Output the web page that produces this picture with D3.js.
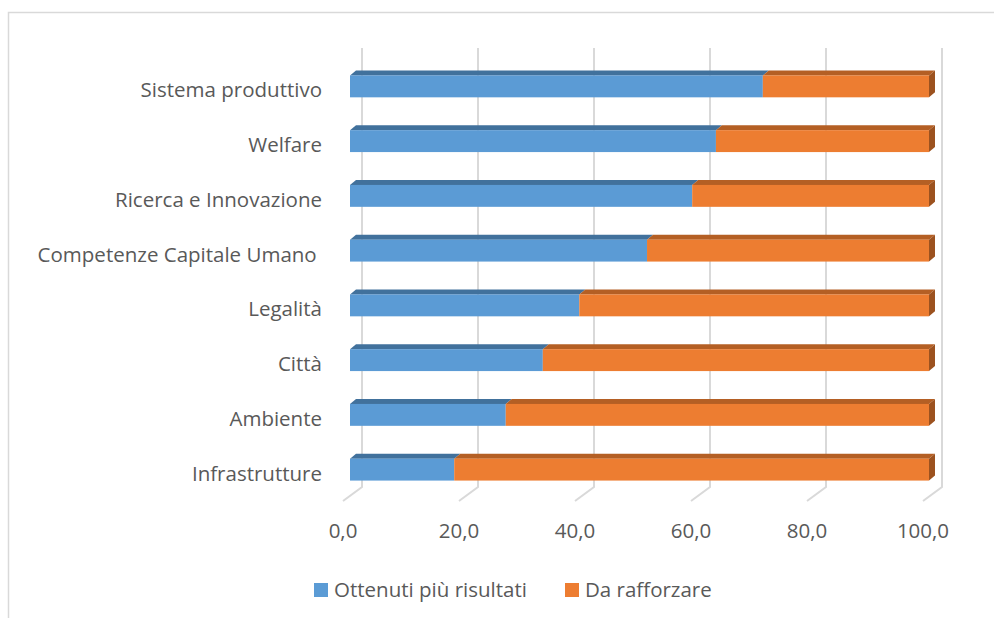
<!DOCTYPE html>
<html lang="it">
<head>
  <meta charset="UTF-8">
  <script src="https://d3js.org/d3.v7.min.js"></script>
  <style>
    body { margin: 0; background: #fff; }
    text { font-family: "Open Sans", sans-serif; fill: #595959; }
  </style>
</head>
<body>
  <script>
    const categories = ["Sistema produttivo", "Welfare", "Ricerca e Innovazione", "Competenze Capitale Umano ",
                        "Legalità", "Città", "Ambiente", "Infrastrutture"]
    const ottenuti = [71.3, 63.2, 59.1, 51.3, 39.6, 33.3, 26.9, 18.0]
    const rafforzare = ottenuti.map(v => +(100 - v).toFixed(1))
    const seriesNames = ["Ottenuti più risultati", "Da rafforzare"]
    const tickValues = [0, 20, 40, 60, 80, 100]

    const width = 994, height = 618
    const colors = {
      blue: { front: "#5b9bd5", top: "#41719c", side: "#3a6a94" },
      orange: { front: "#ed7d31", top: "#b45f24", side: "#9c521f" }
    }

    const svg = d3.select("body").append("svg")
        .attr("width", width)
        .attr("height", height)

    // chart frame
    svg.append("rect")
        .attr("x", 8.5).attr("y", 12.5)
        .attr("width", 1000).attr("height", 700)
        .attr("fill", "none")
        .attr("stroke", "#d9d9d9")
        .attr("stroke-width", 1.5)

    // back wall scale, floor front scale, bar front scale
    const xBack = d3.scaleLinear().domain([0, 100]).range([362, 942])
    const xFloor = d3.scaleLinear().domain([0, 100]).range([343, 923])
    const xBar = d3.scaleLinear().domain([0, 100]).range([350, 929])
    const floorBack = 487, floorFront = 501, wallTop = 48

    const yScale = d3.scaleBand()
        .domain(categories)
        .range([59, 497])
        .paddingInner(0.6)
        .paddingOuter(0.3)

    const dx = 6, dy = -5

    // gridlines (back wall + floor slant)
    const grid = svg.append("g")
    tickValues.forEach(t => {
      grid.append("path")
          .attr("d", `M${xBack(t)},${wallTop}V${floorBack}L${xFloor(t)},${floorFront}`)
          .attr("fill", "none")
          .attr("stroke", "#d9d9d9")
          .attr("stroke-width", 2)
    })

    // tick labels
    svg.append("g").selectAll("text")
        .data(tickValues)
        .join("text")
        .attr("x", d => xFloor(d))
        .attr("y", 538)
        .attr("text-anchor", "middle")
        .style("font-size", "20.5px")
        .text(d => d3.format(".1f")(d).replace(".", ","))

    // category labels
    svg.append("g").selectAll("text")
        .data(categories)
        .join("text")
        .attr("x", 322)
        .attr("y", d => yScale(d) + yScale.bandwidth() / 2 + 11)
        .attr("text-anchor", "end")
        .style("font-size", "20.5px")
        .style("white-space", "pre")
        .attr("xml:space", "preserve")
        .text(d => d)

    // 3D bars
    const bars = svg.append("g")
    const drawBox = (x0, x1, y, h, c, withSide) => {
      bars.append("path")
          .attr("d", `M${x0},${y}L${x0 + dx},${y + dy}L${x1 + dx},${y + dy}L${x1},${y}Z`)
          .attr("fill", c.top)
      if (withSide) {
        bars.append("path")
            .attr("d", `M${x1},${y}L${x1 + dx},${y + dy}L${x1 + dx},${y + h + dy}L${x1},${y + h}Z`)
            .attr("fill", c.side)
      }
      bars.append("rect")
          .attr("x", x0).attr("y", y)
          .attr("width", x1 - x0).attr("height", h)
          .attr("fill", c.front)
    }

    categories.forEach((cat, i) => {
      const y = yScale(cat)
      const h = yScale.bandwidth()
      drawBox(xBar(0), xBar(ottenuti[i]), y, h, colors.blue, false)
      drawBox(xBar(ottenuti[i]), xBar(ottenuti[i] + rafforzare[i]), y, h, colors.orange, true)
    })

    // legend
    const legend = svg.append("g")
    const legendItems = [
      { name: seriesNames[0], color: colors.blue.front, x: 314 },
      { name: seriesNames[1], color: colors.orange.front, x: 565 }
    ]
    legendItems.forEach(d => {
      legend.append("rect")
          .attr("x", d.x).attr("y", 583)
          .attr("width", 14).attr("height", 14)
          .attr("fill", d.color)
      legend.append("text")
          .attr("x", d.x + 20)
          .attr("y", 597)
          .style("font-size", "20.5px")
          .text(d.name)
    })
  </script>
</body>
</html>
